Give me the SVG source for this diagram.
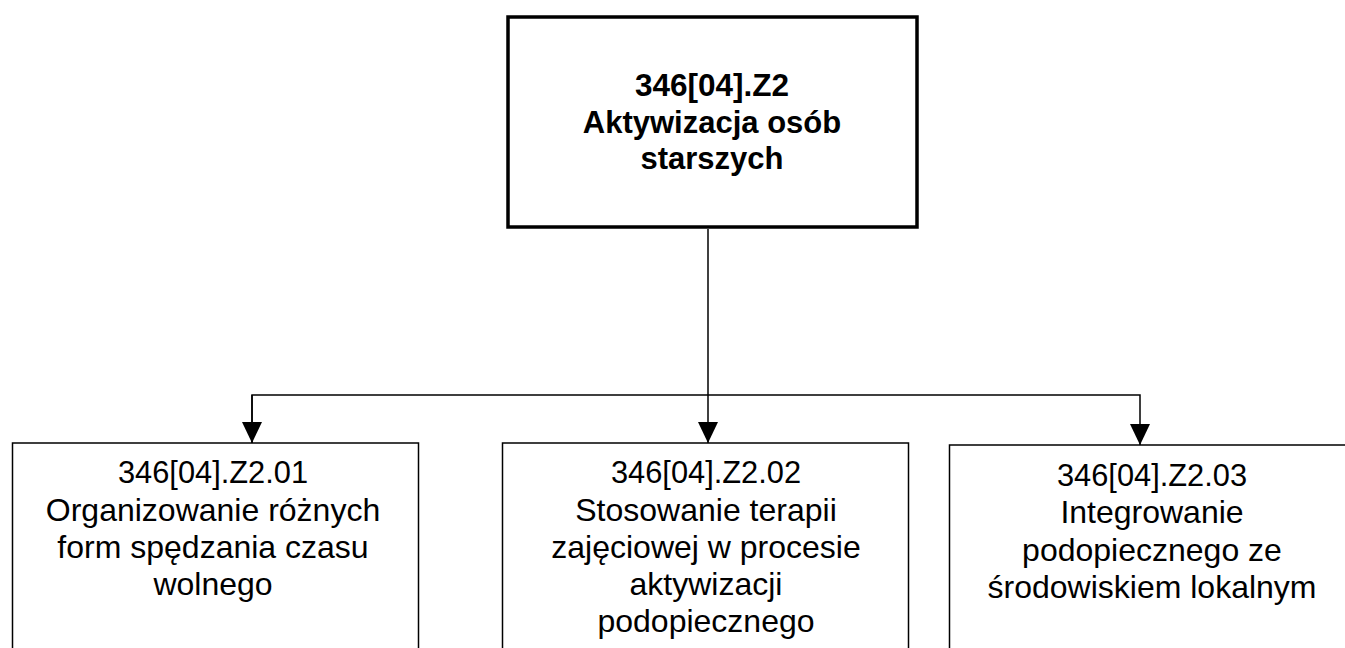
<svg xmlns="http://www.w3.org/2000/svg" width="1345" height="648" viewBox="0 0 1345 648">
<style>
.box{fill:#fff;stroke:#000;stroke-width:1.5}
.main{fill:#fff;stroke:#000;stroke-width:3.5}
.t{font-family:"Liberation Sans",Arial,sans-serif;font-size:32px;fill:#000;text-anchor:middle}
.code{font-size:30.8px}
.b{font-weight:bold;font-size:31px}
.bc{font-size:31.5px}
.c{fill:none;stroke:#000;stroke-width:1.5}
</style>
<defs>
<marker id="arr" markerWidth="21" markerHeight="20" refX="21" refY="10" orient="auto" markerUnits="userSpaceOnUse">
<path d="M0,0 L21,10 L0,20 Z" fill="#000"/>
</marker>
</defs>
<g id="connectors">
<line class="c" x1="708" y1="229" x2="708" y2="443" marker-end="url(#arr)"/>
<polyline class="c" points="252,443 252,395 1140,395 1140,445" marker-end="url(#arr)"/>
<line class="c" x1="252" y1="395" x2="252" y2="443" marker-end="url(#arr)"/>
</g>
<g id="node-main">
<rect class="main" x="508" y="17" width="409" height="210"/>
<text class="t b bc" x="712" y="96">346[04].Z2</text>
<text class="t b" x="712" y="133">Aktywizacja osób</text>
<text class="t b" x="712" y="169">starszych</text>
</g>
<g id="node-01">
<rect class="box" x="12.5" y="443" width="406" height="220"/>
<text class="t code" x="213" y="483">346[04].Z2.01</text>
<text class="t" x="213" y="521">Organizowanie różnych</text>
<text class="t" x="213" y="558">form spędzania czasu</text>
<text class="t" x="213" y="595">wolnego</text>
</g>
<g id="node-02">
<rect class="box" x="502.5" y="443" width="406" height="220"/>
<text class="t code" x="706" y="483">346[04].Z2.02</text>
<text class="t" x="706" y="521">Stosowanie terapii</text>
<text class="t" x="706" y="558">zajęciowej w procesie</text>
<text class="t" x="706" y="595">aktywizacji</text>
<text class="t" x="706" y="632">podopiecznego</text>
</g>
<g id="node-03">
<rect class="box" x="949.5" y="445" width="406" height="220"/>
<text class="t code" x="1152" y="486">346[04].Z2.03</text>
<text class="t" x="1152" y="523">Integrowanie</text>
<text class="t" x="1152" y="561">podopiecznego ze</text>
<text class="t" x="1152" y="598">środowiskiem lokalnym</text>
</g>
</svg>
